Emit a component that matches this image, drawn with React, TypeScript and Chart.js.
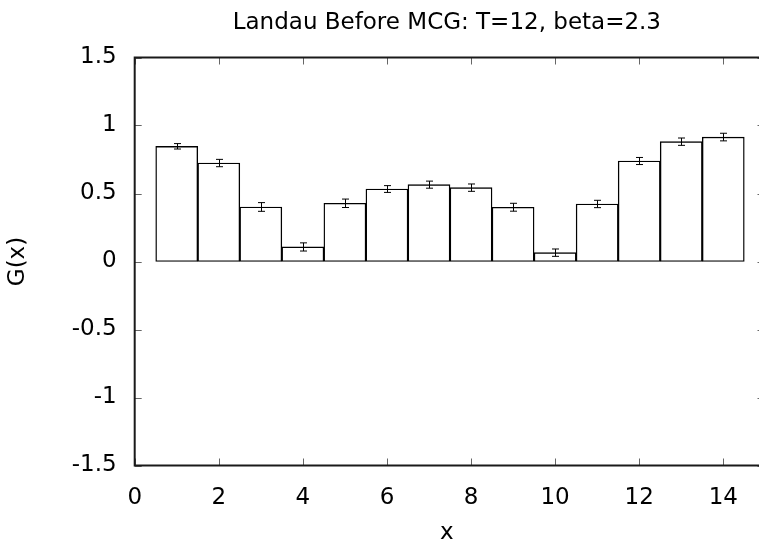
import { useEffect, useRef } from "react";
import { Chart, registerables } from "chart.js";

Chart.register(...registerables);

const chartTitle = "Landau Before MCG: T=12, beta=2.3";
const xAxisLabel = "x";
const yAxisLabel = "G(x)";

const positions = [1, 2, 3, 4, 5, 6, 7, 8, 9, 10, 11, 12, 13, 14];
const values = [0.847, 0.724, 0.401, 0.107, 0.428, 0.533, 0.565, 0.543, 0.399, 0.065, 0.423, 0.739, 0.881, 0.915];
const errors = [0.02, 0.027, 0.032, 0.03, 0.031, 0.025, 0.026, 0.027, 0.029, 0.027, 0.027, 0.026, 0.027, 0.028];

const xTickValues = [0, 2, 4, 6, 8, 10, 12, 14];
const xTickLabels = ["0", "2", "4", "6", "8", "10", "12", "14"];
const yTickValues = [-1.5, -1, -0.5, 0, 0.5, 1, 1.5];
const yTickLabels = ["-1.5", "-1", "-0.5", "0", "0.5", "1", "1.5"];

const X_MIN = 0;
const X_MAX = 14.85;
const Y_MIN = -1.5;
const Y_MAX = 1.5;

const FONT = "'DejaVu Sans', 'Liberation Sans', sans-serif";

const framePlugin = {
  id: "frameAndErrors",
  afterDatasetsDraw(chart: any) {
    const { ctx, chartArea, scales } = chart;
    const { left, right, top, bottom } = chartArea;
    const xs = scales.x;
    const ys = scales.y;
    ctx.save();
    // error bars
    ctx.strokeStyle = "#000";
    ctx.lineWidth = 1;
    positions.forEach((p, i) => {
      const px = Math.round(xs.getPixelForValue(p)) + 0.5;
      const yh = ys.getPixelForValue(values[i] + errors[i]);
      const yl = ys.getPixelForValue(values[i] - errors[i]);
      ctx.beginPath();
      ctx.moveTo(px, yh);
      ctx.lineTo(px, yl);
      ctx.moveTo(px - 3.5, yh);
      ctx.lineTo(px + 3.5, yh);
      ctx.moveTo(px - 3.5, yl);
      ctx.lineTo(px + 3.5, yl);
      ctx.stroke();
    });
    // inward ticks
    ctx.strokeStyle = "#666";
    ctx.lineWidth = 1;
    yTickValues.forEach((v) => {
      const py = Math.round(ys.getPixelForValue(v)) + 0.5;
      ctx.beginPath();
      ctx.moveTo(left, py);
      ctx.lineTo(left + 7, py);
      ctx.moveTo(right - 1.5, py);
      ctx.lineTo(right, py);
      ctx.stroke();
    });
    xTickValues.forEach((v) => {
      const px = Math.round(xs.getPixelForValue(v)) + 0.5;
      ctx.beginPath();
      ctx.moveTo(px, bottom);
      ctx.lineTo(px, bottom - 7);
      ctx.moveTo(px, top);
      ctx.lineTo(px, top + 7);
      ctx.stroke();
    });
    // frame
    ctx.strokeStyle = "#1a1a1a";
    ctx.lineWidth = 2;
    ctx.beginPath();
    ctx.moveTo(right + 2, top);
    ctx.lineTo(left, top);
    ctx.lineTo(left, bottom);
    ctx.lineTo(right + 2, bottom);
    ctx.stroke();
    ctx.restore();
  },
};

export default function App() {
  const canvasRef = useRef<HTMLCanvasElement | null>(null);

  useEffect(() => {
    document.body.style.margin = "0";
    const canvas = canvasRef.current;
    if (!canvas) return;
    const chart = new Chart(canvas, {
      type: "bar",
      data: {
        datasets: [
          {
            data: positions.map((p, i) => ({ x: p, y: values[i] })),
            backgroundColor: "#ffffff",
            borderColor: "#000000",
            borderWidth: 1.4,
            borderSkipped: false,
            barPercentage: 1,
            categoryPercentage: 1,
          } as any,
        ],
      },
      options: {
        animation: false,
        responsive: false,
        devicePixelRatio: 1,
        events: [],
        layout: { padding: { left: 0, right: 0, top: 0, bottom: 0 } },
        plugins: {
          legend: { display: false },
          tooltip: { enabled: false },
          title: {
            display: true,
            text: chartTitle,
            fullSize: false,
            color: "#000",
            font: { family: FONT, size: 23, weight: "normal", lineHeight: 1 },
            padding: { top: 12, bottom: 22.5 },
          },
        },
        scales: {
          x: {
            type: "linear",
            min: X_MIN,
            max: X_MAX,
            offset: false,
            grid: { display: false, drawTicks: false },
            border: { display: false },
            afterBuildTicks: (scale: any) => {
              scale.ticks = xTickValues.map((v) => ({ value: v }));
            },
            afterFit: (scale: any) => {
              scale.height = 78.5;
            },
            ticks: {
              color: "#000",
              padding: 18.5,
              maxRotation: 0,
              autoSkip: false,
              font: { family: FONT, size: 23 },
              callback: (v: any) => {
                const idx = xTickValues.indexOf(Number(v));
                return idx >= 0 ? xTickLabels[idx] : "";
              },
            },
            title: {
              display: true,
              text: xAxisLabel,
              color: "#000",
              font: { family: FONT, size: 23, lineHeight: 1 },
              padding: { top: 0, bottom: -1 },
            },
          },
          y: {
            type: "linear",
            min: Y_MIN,
            max: Y_MAX,
            grid: { display: false, drawTicks: false },
            border: { display: false },
            afterBuildTicks: (scale: any) => {
              scale.ticks = yTickValues.map((v) => ({ value: v }));
            },
            afterFit: (scale: any) => {
              scale.width = 134.7;
            },
            ticks: {
              color: "#000",
              padding: 18,
              autoSkip: false,
              font: { family: FONT, size: 23 },
              callback: (v: any) => {
                const idx = yTickValues.findIndex((t) => Math.abs(t - Number(v)) < 1e-9);
                return idx >= 0 ? yTickLabels[idx] : "";
              },
            },
            title: {
              display: true,
              text: yAxisLabel,
              color: "#000",
              font: { family: FONT, size: 23, lineHeight: 1 },
              padding: { top: 6.5, bottom: 0 },
            },
          },
        },
      } as any,
      plugins: [framePlugin],
    });
    return () => chart.destroy();
  }, []);

  return (
    <div style={{ width: 759, height: 544 }}>
      <canvas ref={canvasRef} width={759} height={544} style={{ display: "block" }} />
    </div>
  );
}
